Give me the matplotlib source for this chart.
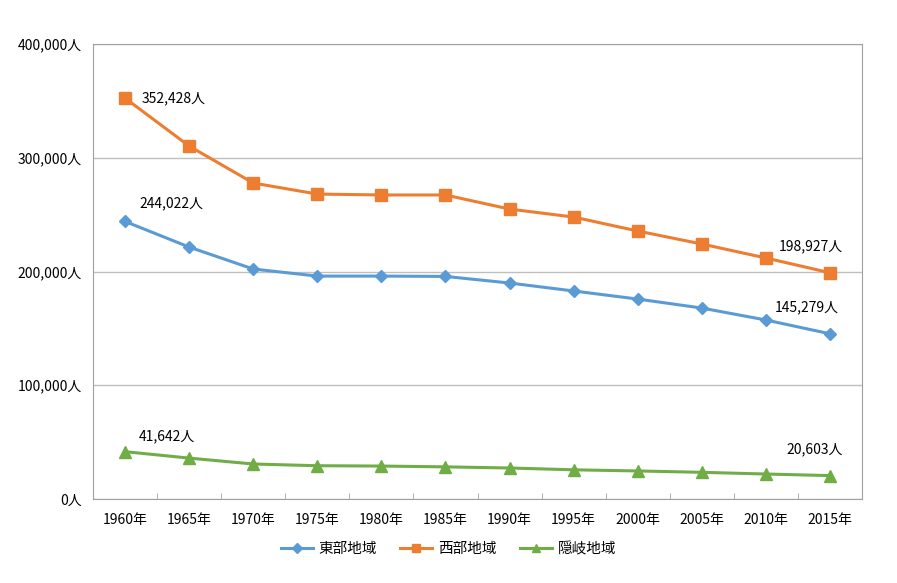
import matplotlib.pyplot as plt
from matplotlib.ticker import FuncFormatter, FixedLocator

plt.rcParams['font.family'] = ['Noto Sans CJK JP', 'DejaVu Sans']

years = ['1960年', '1965年', '1970年', '1975年', '1980年', '1985年',
         '1990年', '1995年', '2000年', '2005年', '2010年', '2015年']
east = [244022, 221500, 202200, 196000, 196000, 195700,
        189900, 182900, 175800, 167900, 157400, 145279]
west = [352428, 310300, 277800, 268100, 267300, 267300,
        254900, 247900, 235600, 224200, 211900, 198927]
oki = [41642, 36000, 30800, 29300, 29000, 28300,
       27300, 25700, 24700, 23500, 22000, 20603]

fig = plt.figure(figsize=(8.97, 5.83), dpi=100)
ax = fig.add_axes([0.1037, 0.144, 0.8573, 0.7805])

x = list(range(len(years)))
ax.plot(x, east, color='#5B9BD5', lw=2.2, marker='D', ms=6.5, label='東部地域')
ax.plot(x, west, color='#ED7D31', lw=2.2, marker='s', ms=8, label='西部地域')
ax.plot(x, oki, color='#70AD47', lw=2.2, marker='^', ms=8, label='隠岐地域')

ax.set_xlim(-0.5, len(years) - 0.5)
ax.set_ylim(0, 400000)
ax.set_xticks(x)
ax.set_xticklabels(years, fontsize=10)
ax.tick_params(axis='x', length=0, pad=10)
ax.xaxis.set_minor_locator(FixedLocator([i + 0.5 for i in x[:-1]]))
ax.tick_params(axis='x', which='minor', direction='in', length=4, color='#A0A0A0')
ax.set_yticks(range(0, 400001, 100000))
ax.yaxis.set_major_formatter(FuncFormatter(lambda v, p: f'{int(v):,}人'))
ax.tick_params(axis='y', length=0, labelsize=10, pad=8)
ax.grid(axis='y', color='#BFBFBF', lw=1)
ax.set_axisbelow(True)
for s in ax.spines.values():
    s.set_color('#A0A0A0')

def lab(v):
    return f'{v:,}人'

ax.annotate(lab(west[0]), (0, west[0]), xytext=(12, 0), textcoords='offset points',
            va='center', ha='left', fontsize=10)
ax.annotate(lab(east[0]), (0, east[0]), xytext=(10, 8), textcoords='offset points',
            va='bottom', ha='left', fontsize=10)
ax.annotate(lab(oki[0]), (0, oki[0]), xytext=(10, 6), textcoords='offset points',
            va='bottom', ha='left', fontsize=10)
ax.annotate(lab(west[-1]), (11, west[-1]), xytext=(9, 14), textcoords='offset points',
            va='bottom', ha='right', fontsize=10)
ax.annotate(lab(east[-1]), (11, east[-1]), xytext=(6, 14), textcoords='offset points',
            va='bottom', ha='right', fontsize=10)
ax.annotate(lab(oki[-1]), (11, oki[-1]), xytext=(9, 14), textcoords='offset points',
            va='bottom', ha='right', fontsize=10)

fig.legend(loc='center', bbox_to_anchor=(0.5, 0.058), ncol=3, frameon=False,
           fontsize=10.5, handlelength=2.2, handletextpad=0.4, columnspacing=1.6,
           markerscale=0.8)

fig.savefig('out.png', dpi=100)
